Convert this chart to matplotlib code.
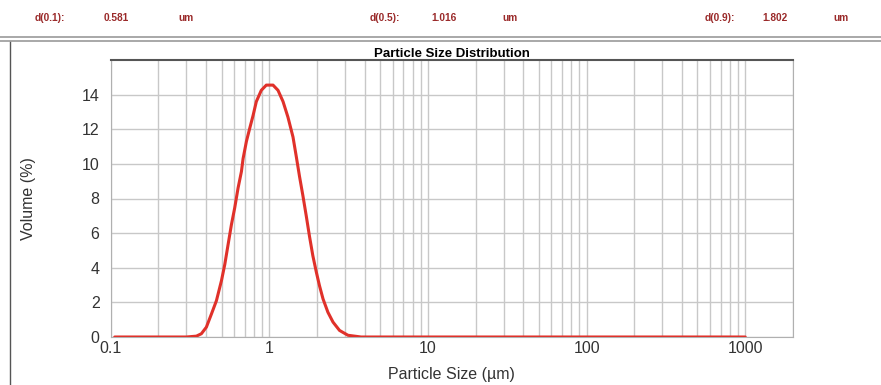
import matplotlib
matplotlib.use("Agg")
import matplotlib.pyplot as plt
from matplotlib.lines import Line2D
from matplotlib.ticker import FixedLocator, NullFormatter

plt.rcParams["font.family"] = ["Liberation Sans", "DejaVu Sans"]

# ---- data ----
size_um = [0.106, 0.2, 0.3, 0.347, 0.373, 0.401, 0.432, 0.464, 0.499, 0.524, 0.55,
           0.577, 0.605, 0.635, 0.667, 0.683, 0.717, 0.752, 0.79, 0.828, 0.89,
           0.957, 1.055, 1.134, 1.22, 1.31, 1.41, 1.48, 1.55, 1.63, 1.71, 1.79,
           1.88, 1.98, 2.07, 2.18, 2.34, 2.52, 2.77, 3.13, 3.79, 10, 100, 1000]
volume_pct = [0, 0, 0, 0.05, 0.19, 0.57, 1.34, 2.1, 3.25, 4.2, 5.36,
              6.5, 7.46, 8.6, 9.56, 10.3, 11.3, 12.05, 12.8, 13.6, 14.25,
              14.55, 14.55, 14.25, 13.6, 12.7, 11.55, 10.4, 9.27, 8.13, 6.98, 5.83,
              4.7, 3.73, 2.97, 2.2, 1.43, 0.86, 0.38, 0.1, 0, 0, 0, 0]
x_ticks = [0.1, 1, 10, 100, 1000]
x_tick_labels = ["0.1", "1", "10", "100", "1000"]
y_ticks = [0, 2, 4, 6, 8, 10, 12, 14]
header_labels = ["d(0.1):", "d(0.5):", "d(0.9):"]
header_values = ["0.581", "1.016", "1.802"]
header_unit = "um"

W, H = 881, 385
fig = plt.figure(figsize=(W / 100, H / 100), dpi=100)
fig.patch.set_facecolor("white")

# header
hdr_color = "#9a2a2a"
hdr_x = [(35, 104, 178), (370, 431, 502), (705, 762, 833)]
for (xl, xv, xu), lab, val in zip(hdr_x, header_labels, header_values):
    for xx, t in ((xl, lab), (xv, val), (xu, header_unit)):
        fig.text(xx / W, 1 - 18 / H, t, color=hdr_color, fontsize=7.3,
                 fontweight="bold", va="center", ha="left")

# double separator line + panel border
for yy in (37, 41):
    fig.add_artist(Line2D([0, 1], [1 - yy / H, 1 - yy / H], transform=fig.transFigure,
                          color="#9a9a9a", lw=1.2))
fig.add_artist(Line2D([10 / W, 10 / W], [0, 1 - 42 / H], transform=fig.transFigure,
                      color="#555555", lw=1.0))

ax_l, ax_r, ax_t, ax_b = 110.7, 793, 60, 337
ax = fig.add_axes([ax_l / W, 1 - ax_b / H, (ax_r - ax_l) / W, (ax_b - ax_t) / H])
ax.set_xscale("log")
ax.set_xlim(0.1, 2000)
ax.set_ylim(0, 16)

ax.plot(size_um, volume_pct, color="#e0312a", lw=2.2, solid_capstyle="round", zorder=3)

ax.xaxis.set_major_locator(FixedLocator(x_ticks))
ax.set_xticklabels(x_tick_labels)
ax.xaxis.set_minor_locator(FixedLocator([m * 10.0 ** e for e in range(-1, 4) for m in range(2, 10)]))
ax.xaxis.set_minor_formatter(NullFormatter())
ax.set_yticks(y_ticks)
ax.grid(True, which="both", axis="x", color="#c8c8c8", lw=1.0)
ax.grid(True, which="major", axis="y", color="#c8c8c8", lw=1.0)
ax.set_axisbelow(True)
ax.tick_params(which="both", length=0, labelsize=11.5, colors="#333333")
ax.tick_params(axis="x", pad=3)
ax.tick_params(axis="y", pad=8)

for s in ("left", "right", "bottom"):
    ax.spines[s].set_color("#b0b0b0")
ax.spines["top"].set_color("#555555")
ax.spines["top"].set_linewidth(1.5)

ax.set_title("Particle Size Distribution", fontsize=9.5, fontweight="bold", pad=1)
fig.text((ax_l + ax_r) / 2 / W, 1 - 375 / H, "Particle Size (\u00b5m)", fontsize=11.5,
         color="#333333", ha="center", va="center")
fig.text(28 / W, 1 - ((ax_t + ax_b) / 2) / H, "Volume (%)", fontsize=11.5,
         color="#333333", ha="center", va="center", rotation=90)

fig.savefig("out.png", dpi=100)
